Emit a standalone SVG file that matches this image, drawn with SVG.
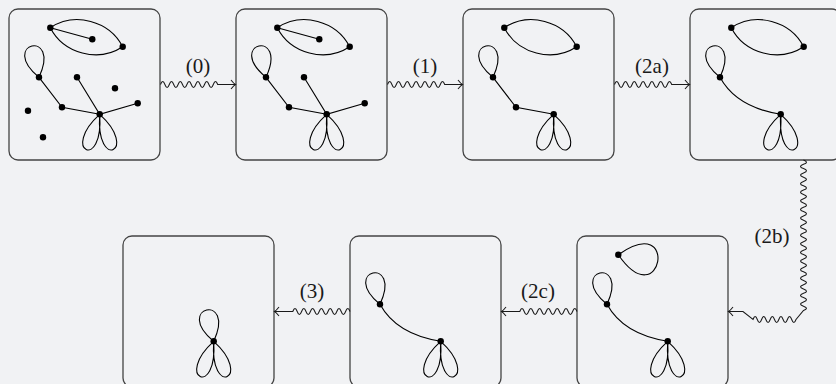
<svg xmlns="http://www.w3.org/2000/svg" width="836" height="384" viewBox="0 0 836 384">
<style>
.bg{fill:#f1f2f4}
.frame{fill:#f1f2f4;stroke:#444;stroke-width:1.3}
.e{fill:none;stroke:#000;stroke-width:1.1}
.n{fill:#000}
.w{fill:none;stroke:#1a1a1a;stroke-width:1.05}
.lbl{font-family:"Liberation Serif",serif;font-size:21px;fill:#1a1a1a;text-anchor:middle}
</style>
<defs>
<path id="lens" d="M41.3,18.7C65.8,2.6 100.3,11.7 113.7,37.7M41.3,18.7C54.7,44.7 89.2,53.8 113.7,37.7"/>
<path id="dloop" d="M30,68.3C52.6,19.4 -11.5,33.9 30,68.3"/>
<path id="petals" d="M90.7,105.3C94.7,163.3 50.7,141.3 90.7,105.3C86.7,163.3 130.7,141.3 90.7,105.3"/>
<path id="dh" d="M30,68.3Q46.3,98.3 90.7,105.3"/>
<path id="hup" d="M90.7,105.3C113.3,56.4 49.2,70.9 90.7,105.3"/>
<path id="aloop" d="M41.3,18.7C84.4,80.9 103.2,-24.9 41.3,18.7"/>
<path id="st1" d="M41.3,18.7L83.3,30.3M30,68.3L53,98.3L90.7,105.3M68,68.3L90.7,105.3L128.7,94.3"/>
<path id="st3" d="M30,68.3L53,98.3L90.7,105.3"/>
</defs>
<rect class="bg" x="0" y="0" width="836" height="384"/>

<g id="graph0" transform="translate(9,9)">
<rect class="frame" x="0" y="0" width="151" height="151" rx="9"/>
<use href="#lens" class="e"/><use href="#dloop" class="e"/><use href="#petals" class="e"/><use href="#st1" class="e"/>
<circle class="n" cx="41.3" cy="18.7" r="3.2"/><circle class="n" cx="83.3" cy="30.3" r="3.2"/><circle class="n" cx="113.7" cy="37.7" r="3.2"/>
<circle class="n" cx="30" cy="68.3" r="3.2"/><circle class="n" cx="68" cy="68.3" r="3.2"/><circle class="n" cx="106" cy="79.3" r="3.2"/>
<circle class="n" cx="53" cy="98.3" r="3.2"/><circle class="n" cx="90.7" cy="105.3" r="3.2"/><circle class="n" cx="128.7" cy="94.3" r="3.2"/>
<circle class="n" cx="19" cy="101.7" r="3.2"/><circle class="n" cx="34" cy="128.3" r="3.2"/>
</g>

<g id="graph1" transform="translate(236,9)">
<rect class="frame" x="0" y="0" width="151" height="151" rx="9"/>
<use href="#lens" class="e"/><use href="#dloop" class="e"/><use href="#petals" class="e"/><use href="#st1" class="e"/>
<circle class="n" cx="41.3" cy="18.7" r="3.2"/><circle class="n" cx="83.3" cy="30.3" r="3.2"/><circle class="n" cx="113.7" cy="37.7" r="3.2"/>
<circle class="n" cx="30" cy="68.3" r="3.2"/><circle class="n" cx="68" cy="68.3" r="3.2"/>
<circle class="n" cx="53" cy="98.3" r="3.2"/><circle class="n" cx="90.7" cy="105.3" r="3.2"/><circle class="n" cx="128.7" cy="94.3" r="3.2"/>
</g>

<g id="graph2" transform="translate(463,9)">
<rect class="frame" x="0" y="0" width="151" height="151" rx="9"/>
<use href="#lens" class="e"/><use href="#dloop" class="e"/><use href="#petals" class="e"/><use href="#st3" class="e"/>
<circle class="n" cx="41.3" cy="18.7" r="3.2"/><circle class="n" cx="113.7" cy="37.7" r="3.2"/>
<circle class="n" cx="30" cy="68.3" r="3.2"/><circle class="n" cx="53" cy="98.3" r="3.2"/><circle class="n" cx="90.7" cy="105.3" r="3.2"/>
</g>

<g id="graph3" transform="translate(690,9)">
<rect class="frame" x="0" y="0" width="151" height="151" rx="9"/>
<use href="#lens" class="e"/><use href="#dloop" class="e"/><use href="#petals" class="e"/><use href="#dh" class="e"/>
<circle class="n" cx="41.3" cy="18.7" r="3.2"/><circle class="n" cx="113.7" cy="37.7" r="3.2"/>
<circle class="n" cx="30" cy="68.3" r="3.2"/><circle class="n" cx="90.7" cy="105.3" r="3.2"/>
</g>

<g id="graph4" transform="translate(577,236)">
<rect class="frame" x="0" y="0" width="151" height="151" rx="9"/>
<use href="#aloop" class="e"/><use href="#dloop" class="e"/><use href="#petals" class="e"/><use href="#dh" class="e"/>
<circle class="n" cx="41.3" cy="18.7" r="3.2"/>
<circle class="n" cx="30" cy="68.3" r="3.2"/><circle class="n" cx="90.7" cy="105.3" r="3.2"/>
</g>

<g id="graph5" transform="translate(350,236)">
<rect class="frame" x="0" y="0" width="151" height="151" rx="9"/>
<use href="#dloop" class="e"/><use href="#petals" class="e"/><use href="#dh" class="e"/>
<circle class="n" cx="30" cy="68.3" r="3.2"/><circle class="n" cx="90.7" cy="105.3" r="3.2"/>
</g>

<g id="graph6" transform="translate(123,236)">
<rect class="frame" x="0" y="0" width="151" height="151" rx="9"/>
<use href="#hup" class="e"/><use href="#petals" class="e"/>
<circle class="n" cx="90.7" cy="105.3" r="3.2"/>
</g>

<g id="connectors">
<path class="w" d="M160.5,84.5q2.2,-6 4.4,0t4.4,0t4.4,0t4.4,0t4.4,0t4.4,0t4.4,0t4.4,0t4.4,0t4.4,0t4.4,0t4.4,0t4.4,0L235.5,84.5M231,80Q233.8,83.6 235.5,84.5Q233.8,85.4 231,89"/>
<path class="w" d="M387.5,84.5q2.2,-6 4.4,0t4.4,0t4.4,0t4.4,0t4.4,0t4.4,0t4.4,0t4.4,0t4.4,0t4.4,0t4.4,0t4.4,0t4.4,0L462.5,84.5M458,80Q460.8,83.6 462.5,84.5Q460.8,85.4 458,89"/>
<path class="w" d="M614.5,84.5q2.2,-6 4.4,0t4.4,0t4.4,0t4.4,0t4.4,0t4.4,0t4.4,0t4.4,0t4.4,0t4.4,0t4.4,0t4.4,0t4.4,0L689.5,84.5M685,80Q687.8,83.6 689.5,84.5Q687.8,85.4 685,89"/>
<path class="w" d="M803.5,160q6,2.15 0,4.3t0,4.3t0,4.3t0,4.3t0,4.3t0,4.3t0,4.3t0,4.3t0,4.3t0,4.3t0,4.3t0,4.3t0,4.3t0,4.3t0,4.3t0,4.3t0,4.3t0,4.3t0,4.3t0,4.3t0,4.3t0,4.3t0,4.3t0,4.3t0,4.3t0,4.3t0,4.3t0,4.3t0,4.3t0,4.3t0,4.3t0,4.3t0,4.3t0,4.3t0,4.3L796,319.5q-2.15,6 -4.3,0t-4.3,0t-4.3,0t-4.3,0t-4.3,0t-4.3,0t-4.3,0t-4.3,0t-4.3,0t-4.3,0L743,311.5L728.5,311.5M733,307Q730.2,310.6 728.5,311.5Q730.2,312.4 733,316"/>
<path class="w" d="M577,311.5q-2.2,-6 -4.4,0t-4.4,0t-4.4,0t-4.4,0t-4.4,0t-4.4,0t-4.4,0t-4.4,0t-4.4,0t-4.4,0t-4.4,0t-4.4,0t-4.4,0L501.5,311.5M506,307Q503.2,310.6 501.5,311.5Q503.2,312.4 506,316"/>
<path class="w" d="M350,311.5q-2.2,-6 -4.4,0t-4.4,0t-4.4,0t-4.4,0t-4.4,0t-4.4,0t-4.4,0t-4.4,0t-4.4,0t-4.4,0t-4.4,0t-4.4,0t-4.4,0L274.5,311.5M279,307Q276.2,310.6 274.5,311.5Q276.2,312.4 279,316"/>
<text class="lbl" x="198" y="73" font-family="Liberation Serif, serif" font-size="21">(0)</text>
<text class="lbl" x="425" y="73" font-family="Liberation Serif, serif" font-size="21">(1)</text>
<text class="lbl" x="652" y="73" font-family="Liberation Serif, serif" font-size="21">(2a)</text>
<text class="lbl" x="772" y="243" font-family="Liberation Serif, serif" font-size="21">(2b)</text>
<text class="lbl" x="538" y="298" font-family="Liberation Serif, serif" font-size="21">(2c)</text>
<text class="lbl" x="312" y="298" font-family="Liberation Serif, serif" font-size="21">(3)</text>
</g>
</svg>
